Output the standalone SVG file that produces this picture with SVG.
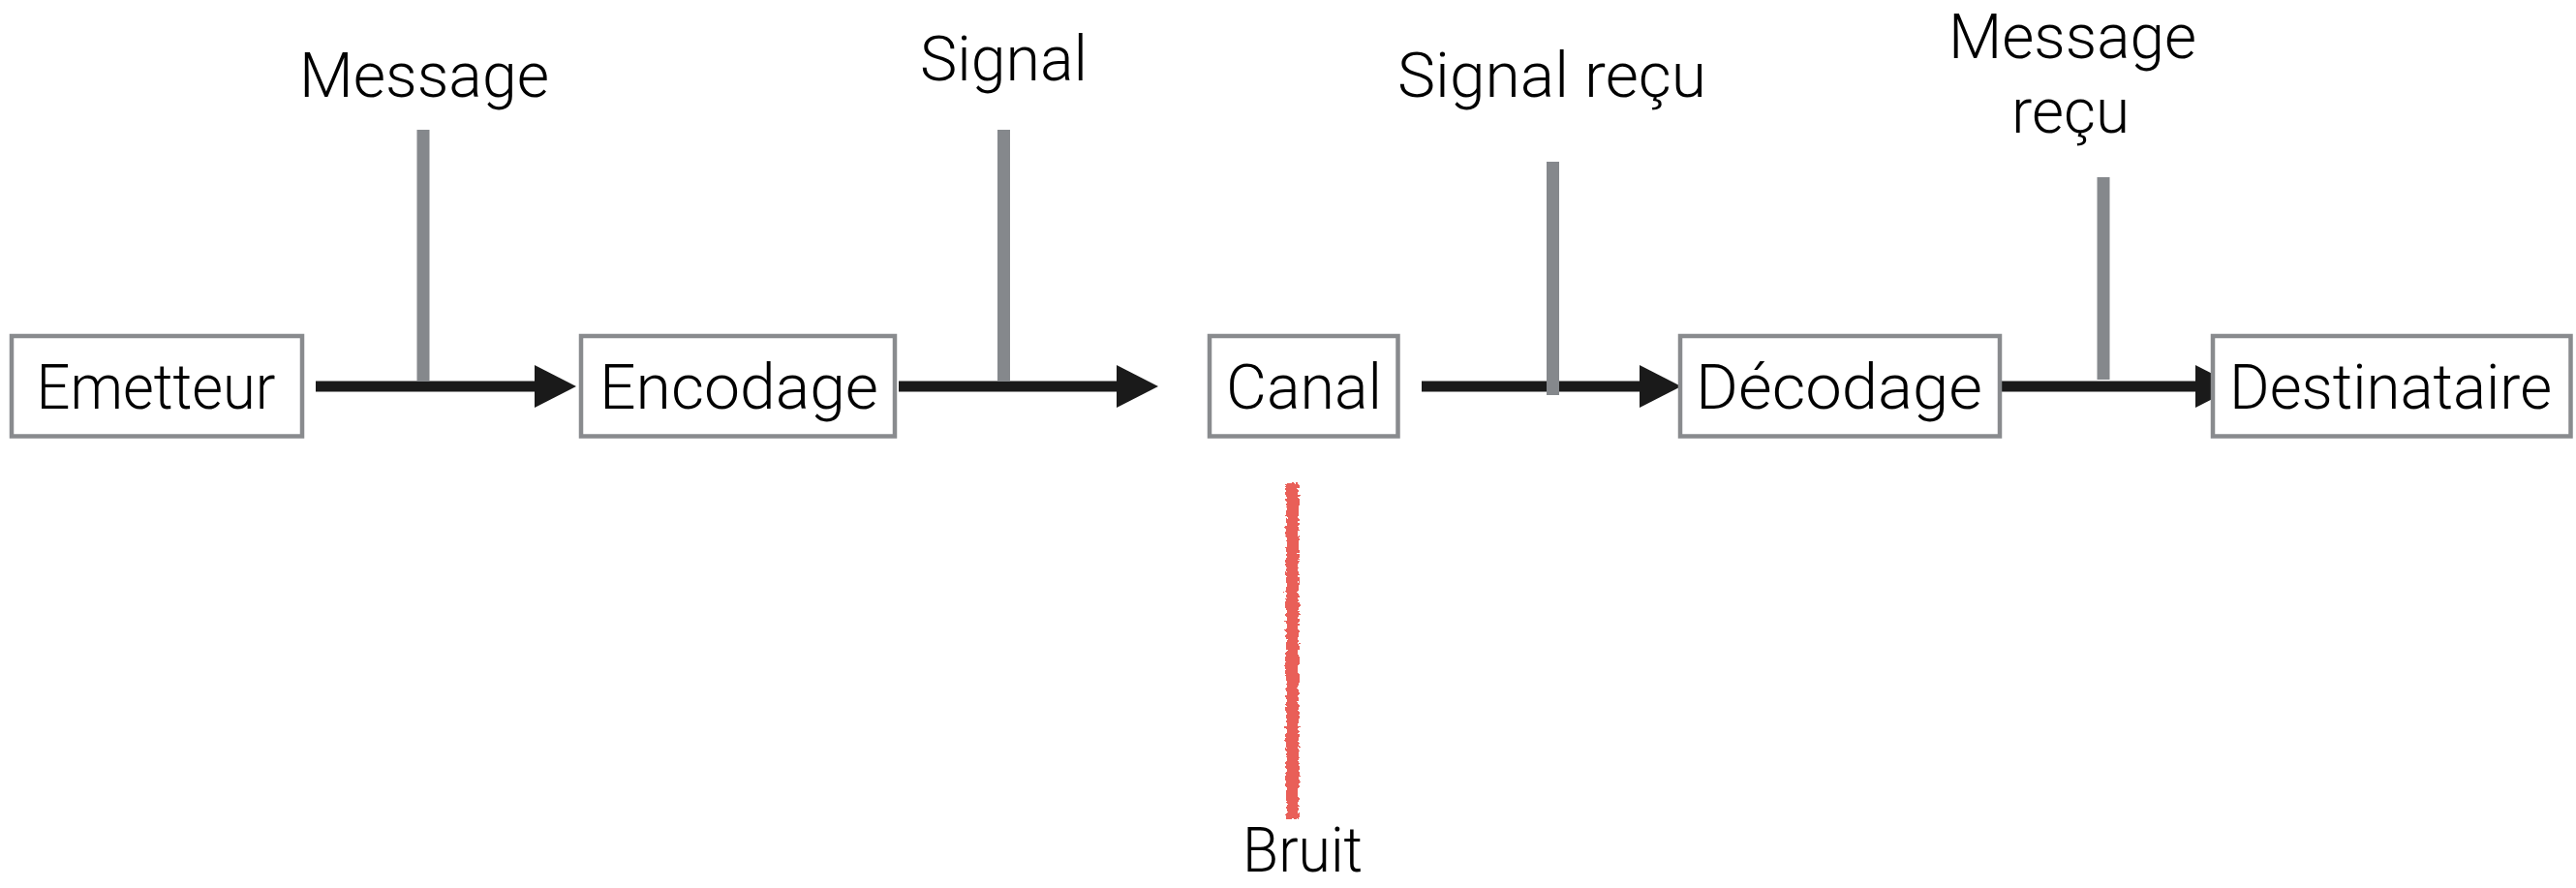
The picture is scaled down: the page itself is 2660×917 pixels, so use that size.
<svg xmlns="http://www.w3.org/2000/svg" width="2660" height="917" viewBox="0 0 2660 917">
  <style>
    .box { fill: #ffffff; stroke: #898b8e; stroke-width: 4.5; }
    .lbl { font-family: Roboto, "Liberation Sans", "DejaVu Sans", sans-serif; font-weight: 300; font-size: 64px; fill: #000000; text-anchor: middle; }
    .conn { stroke: #1a1a1a; stroke-width: 11; fill: none; }
    .ah { fill: #1a1a1a; }
    .bar { stroke: #85888c; stroke-width: 13; fill: none; }
    .noise { stroke: #e95f58; stroke-width: 13; fill: none; filter: url(#rough); }
  </style>
  <defs>
    <path id="head" d="M0,-22 L43,0 L0,22 Z"/>
    <filter id="rough" filterUnits="userSpaceOnUse" x="1300" y="480" width="70" height="385">
      <feTurbulence type="fractalNoise" baseFrequency="0.3" numOctaves="2" seed="3" result="n"/>
      <feDisplacementMap in="SourceGraphic" in2="n" scale="7" xChannelSelector="R" yChannelSelector="G"/>
    </filter>
  </defs>

  <g id="connectors">
    <line class="conn" x1="326" y1="399" x2="553" y2="399"/>
    <use href="#head" class="ah" x="552" y="399"/>
    <line class="conn" x1="928" y1="399" x2="1154" y2="399"/>
    <use href="#head" class="ah" x="1153" y="399"/>
    <line class="conn" x1="1468" y1="399" x2="1694" y2="399"/>
    <use href="#head" class="ah" x="1693" y="399"/>
    <line class="conn" x1="2057" y1="399" x2="2268" y2="399"/>
    <use href="#head" class="ah" x="2267" y="399"/>
  </g>

  <g id="node-emetteur">
    <rect class="box" x="12" y="347" width="300" height="103.5"/>
    <text class="lbl" x="161" y="422" textLength="247" lengthAdjust="spacingAndGlyphs">Emetteur</text>
  </g>
  <g id="node-encodage">
    <rect class="box" x="600" y="347" width="324" height="103.5"/>
    <text class="lbl" x="763" y="422" textLength="288" lengthAdjust="spacingAndGlyphs">Encodage</text>
  </g>
  <g id="node-canal">
    <rect class="box" x="1249" y="347" width="194.5" height="103.5"/>
    <text class="lbl" x="1346.5" y="422" textLength="161" lengthAdjust="spacingAndGlyphs">Canal</text>
  </g>
  <g id="node-decodage">
    <rect class="box" x="1735" y="347" width="330" height="103.5"/>
    <text class="lbl" x="1899" y="422" textLength="296" lengthAdjust="spacingAndGlyphs">Décodage</text>
  </g>
  <g id="node-destinataire">
    <rect class="box" x="2285" y="347" width="369.5" height="103.5"/>
    <text class="lbl" x="2468.5" y="422" textLength="333" lengthAdjust="spacingAndGlyphs">Destinataire</text>
  </g>

  <g id="node-message">
    <line class="bar" x1="437" y1="134" x2="437" y2="394"/>
    <text class="lbl" x="438" y="100" textLength="258" lengthAdjust="spacingAndGlyphs">Message</text>
  </g>
  <g id="node-signal">
    <line class="bar" x1="1036.5" y1="134" x2="1036.5" y2="394"/>
    <text class="lbl" x="1036.5" y="83" textLength="173" lengthAdjust="spacingAndGlyphs">Signal</text>
  </g>
  <g id="node-signal-recu">
    <line class="bar" x1="1603.5" y1="167" x2="1603.5" y2="408"/>
    <text class="lbl" x="1602.5" y="100" textLength="319" lengthAdjust="spacingAndGlyphs">Signal reçu</text>
  </g>
  <g id="node-message-recu">
    <line class="bar" x1="2172" y1="183" x2="2172" y2="392"/>
    <text class="lbl" x="2140" y="60" textLength="256" lengthAdjust="spacingAndGlyphs">Message</text>
    <text class="lbl" x="2138" y="137" textLength="122" lengthAdjust="spacingAndGlyphs">reçu</text>
  </g>
  <g id="node-bruit">
    <line class="noise" x1="1334.5" y1="499" x2="1334.5" y2="845"/>
    <text class="lbl" x="1345" y="900" textLength="124" lengthAdjust="spacingAndGlyphs">Bruit</text>
  </g>
</svg>
